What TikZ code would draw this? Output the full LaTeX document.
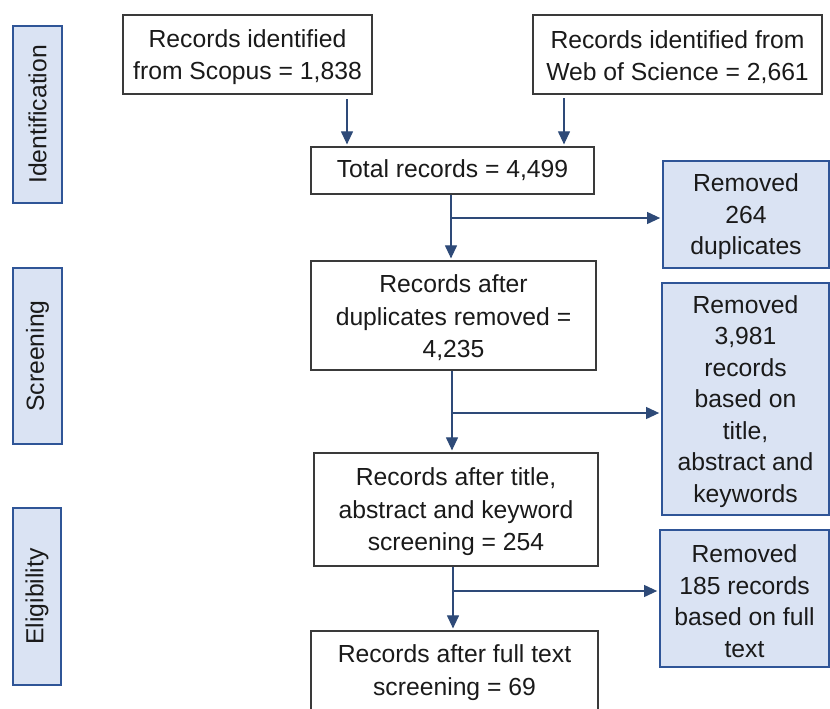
\documentclass[tikz,border=0pt]{standalone}
\usepackage{fontspec}
\setmainfont{Liberation Sans}
\usetikzlibrary{arrows.meta,calc}
\definecolor{bluefill}{HTML}{DAE3F3}
\definecolor{blueline}{HTML}{2F5597}
\definecolor{arrowcol}{HTML}{2E4A78}
\definecolor{boxline}{HTML}{3A3A3A}
\definecolor{txt}{HTML}{1A1A1A}
\newcommand{\topst}{\rule{0pt}{23pt}}
\begin{document}
\begin{tikzpicture}[x=1pt,y=-1pt,
  font=\fontsize{24.7}{31.5}\selectfont,
  wbox/.style={draw=boxline,line width=1.2pt,fill=white,inner sep=0pt,align=center,text=txt,
    font=\fontsize{24.7}{32.5}\selectfont},
  bbox/.style={draw=blueline,line width=1.8pt,fill=bluefill,inner sep=0pt,align=center,text=txt},
  side/.style={draw=blueline,line width=1.8pt,fill=bluefill,inner sep=0pt,align=center,text=txt,rotate=90},
  arr/.style={draw=arrowcol,line width=1.1pt,-{Triangle[length=13pt,width=12pt]},shorten >=2pt}]
\useasboundingbox (0,0) rectangle (830,709);
\fill[white] (0,0) rectangle (830,709);

% side labels
\node[side,minimum width=177pt,minimum height=49pt] (ident) at (37.5,114.5) {Identification};
\node[side,minimum width=176pt,minimum height=49pt] (screen) at (37.5,356) {Screening};
\node[side,minimum width=177pt,minimum height=48pt] (elig) at (37,596.5) {Eligibility};

% main column
\node[wbox,minimum width=249pt,minimum height=79pt] (scopus) at (247.5,54.5) {\topst Records identified\\from Scopus = 1,838};
\node[wbox,minimum width=289pt,minimum height=79pt] (wos) at (677.5,54.5) {\topst Records identified from\\Web of Science = 2,661};
\node[wbox,minimum width=283pt,minimum height=47pt] (total) at (452.5,170.5) {Total records = 4,499};
\node[wbox,minimum width=285pt,minimum height=109pt] (dup) at (453.5,315.5) {\topst Records after\\duplicates removed =\\4,235};
\node[wbox,minimum width=284pt,minimum height=113pt] (title) at (456,509.5) {\topst Records after title,\\abstract and keyword\\screening = 254};
\node[wbox,minimum width=287pt,minimum height=83pt] (final) at (454.5,672.5) {Records after full text\\screening = 69};

% removed boxes
\node[bbox,minimum width=166pt,minimum height=107pt] (rem1) at (746,214.5) {\topst Removed\\264\\duplicates};
\node[bbox,minimum width=167pt,minimum height=232pt] (rem2) at (745.5,399) {\topst Removed\\3,981\\records\\based on\\title,\\abstract and\\keywords};
\node[bbox,minimum width=169pt,minimum height=137pt] (rem3) at (744.5,598.5) {\topst Removed\\185 records\\based on full\\text};

% connectors
\coordinate (a1) at (347,99);
\coordinate (a2) at (564,98);
\draw[arr] (a1) -- (total.north -| a1);
\draw[arr] (a2) -- (total.north -| a2);

\coordinate (c1) at (451,218);
\coordinate (c2) at (452,413);
\coordinate (c3) at (453,591);
\draw[arr] (total.south -| c1) -- (dup.north -| c1);
\draw[arr] (c1) -- (rem1.west |- c1);
\draw[arr] (dup.south -| c2) -- (title.north -| c2);
\draw[arr] (c2) -- (rem2.west |- c2);
\draw[arr] (title.south -| c3) -- (final.north -| c3);
\draw[arr] (c3) -- (rem3.west |- c3);
\end{tikzpicture}
\end{document}
